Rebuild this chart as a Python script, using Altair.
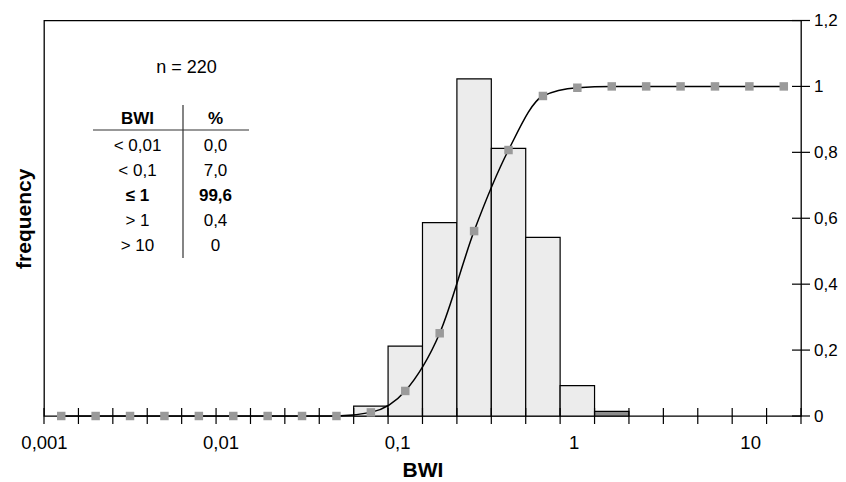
import altair as alt
import pandas as pd

# ---------------- data ----------------
bin_edges = [0.001, 0.001567, 0.002454, 0.003844, 0.006022, 0.009433,
             0.01478, 0.02313, 0.03624, 0.05677, 0.08892,
             0.1393, 0.2182, 0.3418, 0.5354, 0.8387,
             1.314, 2.058, 3.224, 5.050, 7.911, 12.39, 19.41]
frequency = [0, 0, 0, 0, 0, 0, 0, 0, 0, 0.03, 0.212, 0.587, 1.023, 0.812,
             0.542, 0.092, 0.014, 0, 0, 0, 0, 0]
fill_style = ["dots", "dots", "dots", "dots", "dots", "dots", "dots", "dots",
              "dots", "dots", "dots", "dots", "dots", "dots", "dots", "dots",
              "hatch", "dots", "dots", "dots", "dots", "dots"]
cumulative = [0, 0, 0, 0, 0, 0, 0, 0, 0, 0.011, 0.076, 0.251, 0.561, 0.807,
              0.971, 0.996, 1.0, 1.0, 1.0, 1.0, 1.0, 1.0]
x_tick_labels = [0.001, 0.01, 0.1, 1, 10]
y_tick_values = [0, 0.2, 0.4, 0.6, 0.8, 1.0, 1.2]
y_zero = [0] * len(bin_edges)
table_head = ["BWI", "%"]
table_bwi = ["< 0,01", "< 0,1", "≤ 1", "> 1", "> 10"]
table_pct = ["0,0", "7,0", "99,6", "0,4", "0"]
table_bold = [False, False, True, False, False]
n_label = "n = 220"

FONT = "Liberation Sans"

bins = pd.DataFrame({
    "lo": bin_edges[:-1],
    "hi": bin_edges[1:],
    "freq": frequency,
    "fill": fill_style,
    "cum": cumulative,
})
edges_df = pd.DataFrame({"edge": bin_edges, "zero": y_zero})
ytick_df = pd.DataFrame({"yv": y_tick_values, "xr": [bin_edges[-1]] * len(y_tick_values)})

xscale = alt.Scale(type="log", domain=[bin_edges[0], bin_edges[-1]], nice=False)
yscale = alt.Scale(domain=[0, 1.2], nice=False, zero=True)

comma = "replace(format(datum.value, '~g'), '.', ',')"

xaxis = alt.Axis(
    title="BWI", values=x_tick_labels, labelExpr=comma, ticks=False, tickSize=0,
    domain=False, grid=False, labelPadding=17, labelFlush=False, labelOverlap=False,
    labelFontSize=18.5, labelColor="black", labelFont=FONT,
    titleFontSize=21, titleFontWeight="bold", titleColor="black", titleFont=FONT,
    titlePadding=8,
)
yaxis_left = alt.Axis(
    orient="left", title="frequency", labels=False, ticks=False, tickSize=0,
    domain=False, grid=False, titleFontSize=21, titleFontWeight="bold",
    titleColor="black", titleFont=FONT, titlePadding=10,
)
yaxis_right = alt.Axis(
    orient="right", title=None, values=y_tick_values, labelExpr=comma, ticks=False,
    tickSize=0, domain=False, grid=False, labelPadding=12.5, labelOverlap=False,
    labelFontSize=17, labelColor="black", labelFont=FONT,
)

bars = alt.Chart(bins).transform_filter("datum.freq > 0").mark_rect(
    stroke="black", strokeWidth=1.2
).encode(
    x=alt.X("lo:Q", scale=xscale, axis=xaxis),
    x2="hi:Q",
    y=alt.Y("freq:Q", scale=yscale, axis=yaxis_left),
    y2=alt.datum(0),
    color=alt.Color("fill:N", scale=alt.Scale(domain=["dots", "hatch"],
                                              range=["#ececec", "#8c8c8c"]),
                    legend=None),
)

base_cum = alt.Chart(bins).transform_calculate(mid="sqrt(datum.lo * datum.hi)")

line = base_cum.mark_line(color="black", strokeWidth=1.5, interpolate="monotone").encode(
    x=alt.X("mid:Q", scale=xscale, axis=xaxis),
    y=alt.Y("cum:Q", scale=yscale, axis=yaxis_right),
)
points = base_cum.mark_square(size=72, color="#9a9a9a", opacity=1).encode(
    x=alt.X("mid:Q", scale=xscale, axis=xaxis),
    y=alt.Y("cum:Q", scale=yscale, axis=None),
)

xticks = alt.Chart(edges_df).mark_tick(
    orient="vertical", size=16, thickness=1.2, color="black", opacity=1
).encode(
    x=alt.X("edge:Q", scale=xscale, axis=xaxis),
    y=alt.Y("zero:Q", scale=yscale, axis=None),
)
yticks = alt.Chart(ytick_df).mark_tick(
    orient="horizontal", size=18, thickness=1.2, color="black", opacity=1
).encode(
    x=alt.X("xr:Q", scale=xscale, axis=xaxis),
    y=alt.Y("yv:Q", scale=yscale, axis=None),
)


def label(txt, x, y, bold=False, size=17):
    return alt.Chart(pd.DataFrame({"t": [txt]})).mark_text(
        font=FONT, fontSize=size, fontWeight="bold" if bold else "normal",
        color="black", align="center", baseline="middle",
    ).encode(x=alt.value(x), y=alt.value(y), text="t:N")


def rule(x1, x2, y1, y2):
    return alt.Chart(pd.DataFrame({"k": [0]})).mark_rule(
        color="#333333", strokeWidth=1.2
    ).encode(x=alt.value(x1), x2=alt.value(x2), y=alt.value(y1), y2=alt.value(y2))


col_x = [93.5, 171.5]
row_y = [125.5, 150.2, 175.3, 200.3, 225.6]
annotations = [label(n_label, 142.5, 47.5, size=18)]
annotations.append(label(table_head[0], col_x[0], 98.5, bold=True))
annotations.append(label(table_head[1], col_x[1], 98.5, bold=True))
for i in range(len(table_bwi)):
    annotations.append(label(table_bwi[i], col_x[0], row_y[i], bold=table_bold[i]))
    annotations.append(label(table_pct[i], col_x[1], row_y[i], bold=table_bold[i]))
annotations.append(rule(49, 205, 109.5, 109.5))
annotations.append(rule(139, 139, 84.5, 237.5))

chart = alt.layer(bars, line, points, xticks, yticks, *annotations).resolve_axis(
    y="independent"
).properties(
    width=757, height=395.5,
    autosize=alt.AutoSizeParams(type="none"),
    padding={"left": 36, "top": 12.5, "right": 37, "bottom": 66},
).configure_view(stroke="black", strokeWidth=1.3)

chart.save("out.html", embed_options={"renderer": "svg", "actions": False})
